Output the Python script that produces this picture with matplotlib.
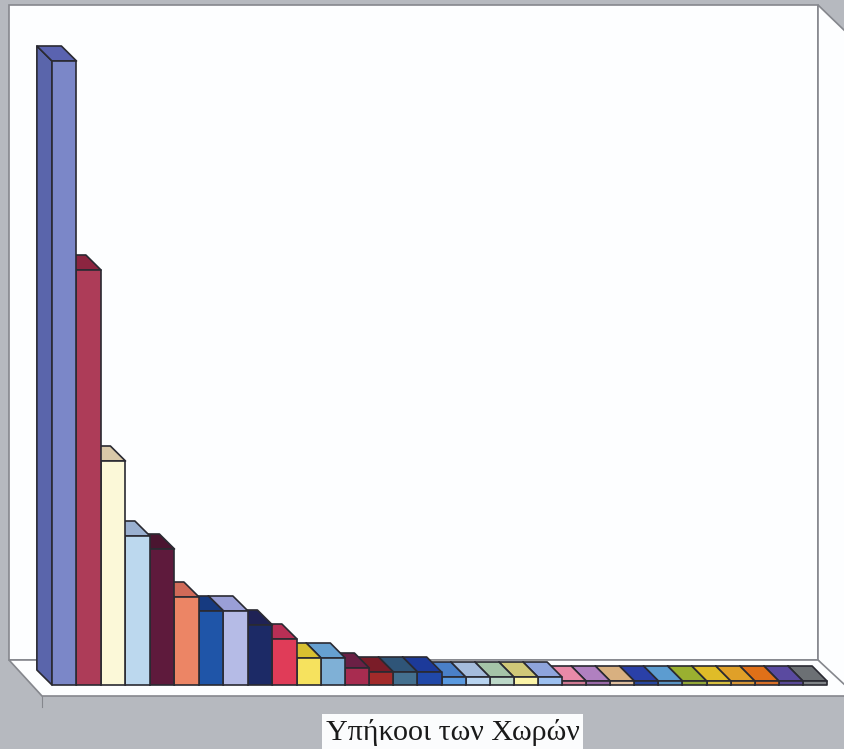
import matplotlib
matplotlib.use("Agg")
import matplotlib.pyplot as plt
from matplotlib.patches import Polygon, Rectangle
from matplotlib.transforms import Affine2D

title = "Υπήκοοι των Χωρών"
values = [624, 415, 224, 149, 136, 88, 74, 74, 60, 46, 27, 27, 17, 13, 13, 13,
          8, 8, 8, 8, 8, 4, 4, 4, 4, 4, 4, 4, 4, 4, 4, 4]
front_colors = ["#7b87c8", "#ad3c58", "#fbf8d8", "#bcd8ee", "#5e1a3c", "#ec8565", "#1f55a8", "#b5bbe6",
                "#1c2a66", "#e03c58", "#f6e25e", "#7fb0d6", "#a82c50", "#a22a2a", "#44708f", "#2048a8",
                "#5a9ae0", "#b8d4f0", "#bcd8c8", "#fbf4a8", "#9cc0f0", "#d07a94", "#9a6aa8", "#e0c0a0",
                "#2848a0", "#5a94c4", "#94a838", "#d8c040", "#d89838", "#d87028", "#5a4a98", "#808488"]
top_colors = ["#5a63b0", "#8c2540", "#d8c8a8", "#9ab0d0", "#4a1530", "#d06a58", "#163a80", "#9a9fd6",
              "#1f2255", "#b82f55", "#d8c030", "#66a0d0", "#6a2045", "#7a1c28", "#2f5578", "#1c3a9a",
              "#4a80c8", "#a5bcdc", "#a5c4a8", "#d0c878", "#8ea4dc", "#e88aa8", "#b080c0", "#d8b080",
              "#2a40a8", "#5c9cd0", "#9ab030", "#e0bc28", "#e0a028", "#e07018", "#5a4aa0", "#6c7074"]
side_color_first = "#5a65ab"

W, H = 844, 749
X0, Y0 = 52, 685
STEP_L, STEP_R, KNEE = 24.5, 24.09, 10
DEPTH = 15


def forward(x):
    return X0 + STEP_L * np.minimum(x, KNEE) + STEP_R * np.maximum(x - KNEE, 0)


def inverse(p):
    knee_px = X0 + STEP_L * KNEE
    return np.where(p <= knee_px, (p - X0) / STEP_L, KNEE + (p - knee_px) / STEP_R)


import numpy as np

fig = plt.figure(figsize=(W / 100, H / 100), dpi=100, facecolor="#b6b9bf")
ax = fig.add_axes([0, 0, 1, 1])
ax.set_xscale("function", functions=(forward, inverse))
ax.set_xlim(float(inverse(np.array(0.0))), float(inverse(np.array(float(W)))))
ax.set_ylim(Y0 - H, Y0)
ax.axis("off")

px = Affine2D().scale(1, -1).translate(0, H)
wall_kw = dict(transform=px, edgecolor="#85878d", linewidth=1.2, facecolor="#fdfeff")
ax.add_patch(Polygon([(9, 5), (818, 5), (818, 660), (9, 660)], **wall_kw))
ax.add_patch(Polygon([(818, 5), (846, 32), (846, 698), (818, 660)], **wall_kw))
ax.add_patch(Polygon([(9, 660), (818, 660), (846, 686), (846, 696), (42, 696)], **wall_kw))
ax.plot([42, 42], [696, 707], transform=px, color="#85878d", lw=0.8)

dx = DEPTH / 24.3
dy = DEPTH
edge = dict(edgecolor="#2a2a32", linewidth=1.2, joinstyle="round")
for i in range(len(values) - 1, -1, -1):
    v = values[i]
    ax.add_patch(Polygon([(i, 0), (i, v), (i - dx, v + dy), (i - dx, dy)],
                         facecolor=side_color_first if i == 0 else top_colors[i], **edge))
    ax.add_patch(Polygon([(i, v), (i + 1, v), (i + 1 - dx, v + dy), (i - dx, v + dy)],
                         facecolor=top_colors[i], **edge))
    ax.add_patch(Rectangle((i, 0), 1, v, facecolor=front_colors[i], **edge))

ax.add_patch(Rectangle((322, 714), 261, 36, transform=px, facecolor="#fbfcfd", edgecolor="none"))
ax.text(452.5, 732, title, transform=px, ha="center", va="center",
        family="Liberation Serif", fontsize=21.6, color="#1a1a1a")

fig.savefig("out.png", dpi=100, facecolor=fig.get_facecolor())
